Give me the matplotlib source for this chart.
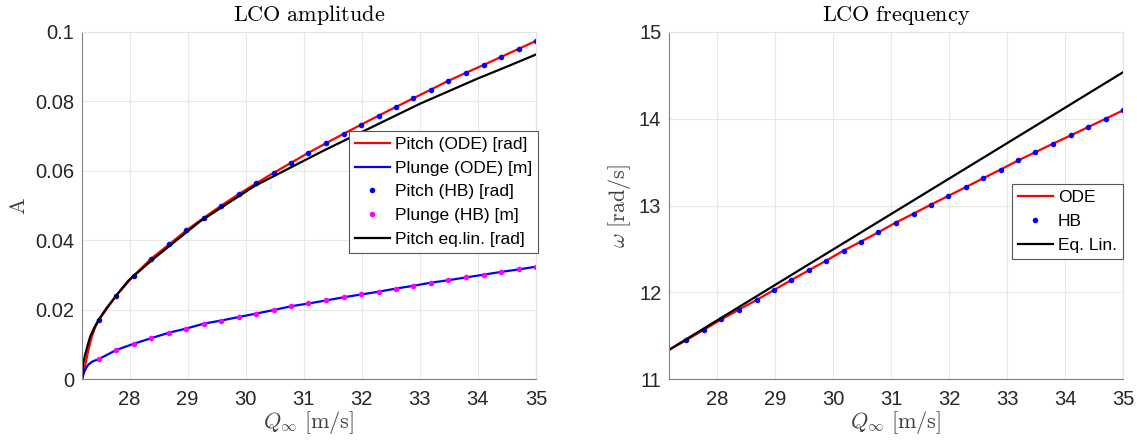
import matplotlib
matplotlib.use("Agg")
import matplotlib.pyplot as plt

plt.rcParams['font.family'] = ['Liberation Sans', 'DejaVu Sans']
plt.rcParams['mathtext.fontset'] = 'cm'

# flight speed [m/s] of the harmonic balance points
hb_q = [27.47, 27.77, 28.07, 28.37, 28.68, 28.98, 29.28, 29.58, 29.88, 30.18,
        30.48, 30.78, 31.08, 31.39, 31.69, 31.99, 32.29, 32.59, 32.89, 33.19,
        33.49, 33.79, 34.10, 34.40, 34.70, 35.00]

# LCO amplitude, HB
hb_pitch = [0.0170, 0.0241, 0.0298, 0.0347, 0.0388, 0.0429, 0.0465, 0.0500,
            0.0533, 0.0564, 0.0594, 0.0623, 0.0652, 0.0680, 0.0707, 0.0733,
            0.0759, 0.0784, 0.0809, 0.0834, 0.0859, 0.0882, 0.0905, 0.0928,
            0.0951, 0.0974]
hb_plunge = [0.0058, 0.0084, 0.0102, 0.0118, 0.0134, 0.0146, 0.0160, 0.0169,
             0.0179, 0.0189, 0.0199, 0.0210, 0.0218, 0.0227, 0.0236, 0.0244,
             0.0252, 0.0261, 0.0269, 0.0278, 0.0285, 0.0293, 0.0301, 0.0309,
             0.0316, 0.0324]

# ODE time integration (start of branch near flutter speed + HB grid)
ode_q_pitch = [27.18, 27.23, 27.29, 27.35, 27.41] + hb_q
ode_pitch = [0.0, 0.0036, 0.0084, 0.0123, 0.0150] + hb_pitch
ode_q_plunge = [27.18, 27.21, 27.25, 27.29, 27.36] + hb_q
ode_plunge = [0.0, 0.0017, 0.0032, 0.0042, 0.0051] + hb_plunge

# equivalent linearisation, pitch
eq_q = [27.18, 27.20, 27.23, 27.27, 27.32, 27.39, 27.47, 27.60, 27.78, 27.98,
        28.40, 28.80, 29.21, 30.15, 31.34, 32.31, 33.00, 34.00, 34.50, 35.00]
eq_pitch = [0.0, 0.0045, 0.0068, 0.0093, 0.0122, 0.0148, 0.0172, 0.0204,
            0.0243, 0.0284, 0.0345, 0.0399, 0.0454, 0.0556, 0.0658, 0.0737,
            0.0793, 0.0866, 0.0900, 0.0935]

# LCO frequency
hb_omega = [11.450, 11.569, 11.688, 11.800, 11.912, 12.027, 12.142, 12.254,
            12.365, 12.481, 12.585, 12.692, 12.804, 12.908, 13.012, 13.112,
            13.212, 13.315, 13.415, 13.519, 13.615, 13.712, 13.808, 13.904,
            14.000, 14.096]
ode_q_omega = [27.18] + hb_q
ode_omega = [11.34] + hb_omega
eq_q_omega = [27.17, 29.0, 31.0, 33.0, 35.0]
eq_omega = [11.339, 12.086, 12.902, 13.718, 14.535]

x_ticks = [28, 29, 30, 31, 32, 33, 34, 35]
amp_ticks = [0, 0.02, 0.04, 0.06, 0.08, 0.1]
amp_labels = ['0', '0.02', '0.04', '0.06', '0.08', '0.1']
om_ticks = [11, 12, 13, 14, 15]

red = '#ff0000'
blue = '#0000ff'
mag = '#ff00ff'
lw = 1.6
ms = 4.0


def style_axes(ax):
    ax.grid(True, color='#e8e8e8', linewidth=0.8)
    ax.set_axisbelow(True)
    for s in ['top', 'right']:
        ax.spines[s].set_color('#e4e4e4')
    for s in ['left', 'bottom']:
        ax.spines[s].set_color('#808080')
    ax.tick_params(direction='in', length=0, labelsize=14.5, colors='#262626')
    ax.tick_params(axis='x', pad=8)
    ax.tick_params(axis='y', pad=5.5)


def add_legend(ax, anchor):
    leg = ax.legend(loc='upper right', bbox_to_anchor=anchor, fontsize=12.5,
                    frameon=True, fancybox=False, edgecolor='#555555',
                    framealpha=1, borderpad=0.35, labelspacing=0.5,
                    handlelength=2.0, handletextpad=0.3, borderaxespad=0)
    leg.get_frame().set_linewidth(0.8)
    return leg


fig = plt.figure(figsize=(11.37, 4.43), dpi=100)
ax1 = fig.add_axes([0.0721, 0.1440, 0.3993, 0.7840])
ax2 = fig.add_axes([0.5884, 0.1440, 0.3993, 0.7840])

# amplitude
ax1.plot(ode_q_pitch, ode_pitch, color=red, lw=lw, label='Pitch (ODE) [rad]')
ax1.plot(ode_q_plunge, ode_plunge, color=blue, lw=lw, label='Plunge (ODE) [m]')
ax1.plot(hb_q, hb_pitch, 'o', color=blue, ms=ms, mew=0, label='Pitch (HB) [rad]')
ax1.plot(hb_q, hb_plunge, 'o', color=mag, ms=ms, mew=0, label='Plunge (HB) [m]')
ax1.plot(eq_q, eq_pitch, color='black', lw=lw, label='Pitch eq.lin. [rad]')
ax1.set_xlim(27.18, 35)
ax1.set_ylim(0, 0.1)
ax1.set_xticks(x_ticks)
ax1.set_yticks(amp_ticks)
ax1.set_yticklabels(amp_labels)
style_axes(ax1)
ax1.set_title(r'$\mathrm{LCO\ amplitude}$', fontsize=16, pad=8)
ax1.set_xlabel(r'$Q_\infty\ [\mathrm{m/s}]$', fontsize=16, color='#404040', labelpad=0)
ax1.set_ylabel(r'$\mathrm{A}$', fontsize=16, color='#404040', labelpad=4)
add_legend(ax1, (1.005, 0.716))

# frequency
ax2.plot(ode_q_omega, ode_omega, color=red, lw=lw, label='ODE')
ax2.plot(hb_q, hb_omega, 'o', color=blue, ms=ms, mew=0, label='HB')
ax2.plot(eq_q_omega, eq_omega, color='black', lw=lw, label='Eq. Lin.')
ax2.set_xlim(27.17, 35)
ax2.set_ylim(11, 15)
ax2.set_xticks(x_ticks)
ax2.set_yticks(om_ticks)
style_axes(ax2)
ax2.set_title(r'$\mathrm{LCO\ frequency}$', fontsize=16, pad=8)
ax2.set_xlabel(r'$Q_\infty\ [\mathrm{m/s}]$', fontsize=16, color='#404040', labelpad=0)
ax2.set_ylabel(r'$\omega\ [\mathrm{rad/s}]$', fontsize=16, color='#404040', labelpad=4)
add_legend(ax2, (1.0, 0.562))

fig.savefig('out.png', dpi=100)
